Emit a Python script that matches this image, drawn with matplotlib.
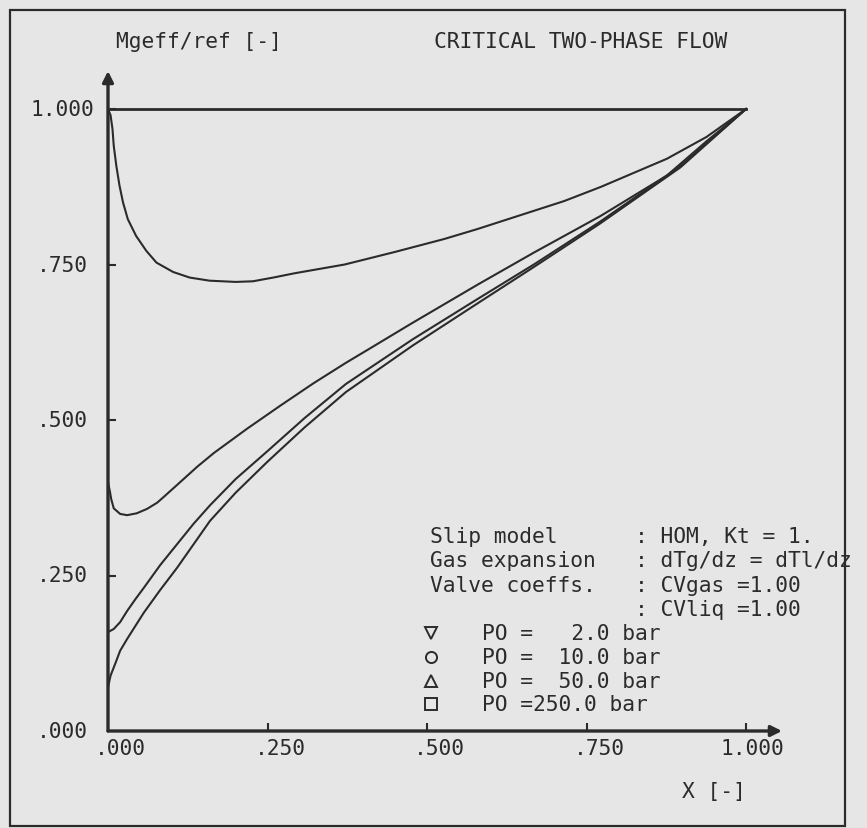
import matplotlib
matplotlib.use('Agg')
import matplotlib.pyplot as plt
import matplotlib.transforms as mtransforms
from matplotlib.patches import Rectangle

W, H = 867, 829
BG = '#e6e6e6'
INK = '#2b2b2b'
FONT = 'DejaVu Sans Mono'
FS = 15.3

# ---------------- data ----------------
ref_x = [0.0, 1.0]
ref_y = [1.0, 1.0]

# P0 = 2 bar (upper curve)
a_x = [0.0, 0.004, 0.007, 0.009, 0.013, 0.018, 0.0235, 0.031, 0.044, 0.060, 0.076,
       0.102, 0.128, 0.159, 0.2, 0.227, 0.259, 0.293, 0.371, 0.449, 0.527, 0.579,
       0.715, 0.773, 0.876, 0.938, 1.0]
a_y = [1.0, 0.99, 0.968, 0.941, 0.909, 0.877, 0.850, 0.823, 0.796, 0.772, 0.753,
       0.738, 0.729, 0.724, 0.722, 0.723, 0.729, 0.736, 0.750, 0.770, 0.791, 0.807,
       0.852, 0.875, 0.920, 0.955, 1.0]

# P0 = 10 bar
b_x = [0.0, 0.003, 0.005, 0.009, 0.019, 0.030, 0.045, 0.061, 0.077, 0.087, 0.113,
       0.140, 0.166, 0.218, 0.270, 0.322, 0.373, 0.404, 0.477, 0.580, 0.669, 0.772,
       0.876, 0.938, 1.0]
b_y = [0.40, 0.385, 0.373, 0.358, 0.349, 0.347, 0.350, 0.357, 0.367, 0.376, 0.400,
       0.425, 0.447, 0.486, 0.523, 0.559, 0.592, 0.611, 0.656, 0.718, 0.770, 0.828,
       0.893, 0.948, 1.0]

# P0 = 50 bar
c_x = [0.0, 0.009, 0.019, 0.030, 0.043, 0.056, 0.082, 0.108, 0.134, 0.160, 0.2,
       0.25, 0.308, 0.373, 0.478, 0.58, 0.669, 0.77, 0.897, 1.0]
c_y = [0.159, 0.164, 0.175, 0.193, 0.212, 0.230, 0.267, 0.300, 0.333, 0.363, 0.405,
       0.450, 0.503, 0.558, 0.630, 0.695, 0.751, 0.818, 0.908, 1.0]

# P0 = 250 bar
d_x = [0.0, 0.004, 0.012, 0.019, 0.030, 0.056, 0.082, 0.108, 0.134, 0.160, 0.2,
       0.25, 0.308, 0.373, 0.478, 0.58, 0.669, 0.77, 0.897, 1.0]
d_y = [0.070, 0.089, 0.110, 0.129, 0.148, 0.190, 0.227, 0.262, 0.300, 0.338, 0.383,
       0.433, 0.488, 0.545, 0.620, 0.688, 0.747, 0.815, 0.906, 1.0]

x_ticks = [0.0, 0.25, 0.5, 0.75, 1.0]
x_labels = ['.000', '.250', '.500', '.750', '1.000']
y_ticks = [0.0, 0.25, 0.5, 0.75, 1.0]
y_labels = ['.000', '.250', '.500', '.750', '1.000']

info_left = ['Slip model', 'Gas expansion', 'Valve coeffs.', '']
info_right = [': HOM, Kt = 1.', ': dTg/dz = dTl/dz', ': CVgas =1.00', ': CVliq =1.00']
legend_labels = ['PO =   2.0 bar', 'PO =  10.0 bar', 'PO =  50.0 bar', 'PO =250.0 bar']
legend_markers = ['v', 'o', '^', 's']

# ---------------- figure ----------------
fig = plt.figure(figsize=(W / 100, H / 100), dpi=100, facecolor=BG)

def fx(x):
    return x / W

def fy(y):
    return 1 - y / H

ax = fig.add_axes([fx(108), fy(732), (782 - 108) / W, (732 - 72) / H])
ax.set_facecolor('none')
ax.set_xlim(0, (782 - 108) / 638)
ax.set_ylim(0, (732 - 72) / 622)
for s in ax.spines.values():
    s.set_visible(False)

# axes with arrows
ax.annotate('', xy=(0, 1), xytext=(0, 0), xycoords='axes fraction',
            arrowprops=dict(arrowstyle='-|>', lw=2.4, color=INK,
                            mutation_scale=16, shrinkA=0, shrinkB=0))
ax.annotate('', xy=(1, 0), xytext=(0, 0), xycoords='axes fraction',
            arrowprops=dict(arrowstyle='-|>', lw=2.4, color=INK,
                            mutation_scale=16, shrinkA=0, shrinkB=0))

ax.set_xticks(x_ticks[1:])
ax.set_yticks(y_ticks[1:])
ax.tick_params(direction='in', length=6, width=1.5, color=INK,
               labelbottom=False, labelleft=False)

def off(dx, dy):
    return mtransforms.ScaledTranslation(dx / 100, dy / 100, fig.dpi_scale_trans)

for v, lab in zip(x_ticks, x_labels):
    ax.text(v, 0, lab, transform=ax.get_xaxis_transform() + off(38, -17),
            ha='right', va='center', family=FONT, size=FS, color=INK)
for v, lab in zip(y_ticks, y_labels):
    ax.text(0, v, lab, transform=ax.get_yaxis_transform() + off(-46, 0),
            ha='center', va='center', family=FONT, size=FS, color=INK)

# curves
lw = 1.5
ax.plot(ref_x, ref_y, color=INK, lw=2.0)
ax.plot(a_x, a_y, color=INK, lw=lw)
ax.plot(b_x, b_y, color=INK, lw=lw)
ax.plot(c_x, c_y, color=INK, lw=lw)
ax.plot(d_x, d_y, color=INK, lw=lw)

# titles
fig.text(fx(116), fy(42), 'Mgeff/ref [-]', ha='left', va='center',
         family=FONT, size=FS, color=INK)
fig.text(fx(434), fy(42), 'CRITICAL TWO-PHASE FLOW', ha='left', va='center',
         family=FONT, size=FS, color=INK)
fig.text(fx(682), fy(792), 'X [-]', ha='left', va='center',
         family=FONT, size=FS, color=INK)

# info block
rows_y = [537, 561, 586, 610]
for yy, l, r in zip(rows_y, info_left, info_right):
    if l:
        fig.text(fx(430), fy(yy), l, ha='left', va='center', family=FONT,
                 size=FS, color=INK)
    fig.text(fx(635), fy(yy), r, ha='left', va='center', family=FONT,
             size=FS, color=INK)

leg_y = [634, 658, 682, 705]
for yy, lab, m in zip(leg_y, legend_labels, legend_markers):
    fig.add_artist(plt.Line2D([fx(431)], [fy(yy)], marker=m, ms=8,
                              mfc='none', mec=INK, mew=1.4,
                              transform=fig.transFigure))
    fig.text(fx(482), fy(yy), lab, ha='left', va='center', family=FONT,
             size=FS, color=INK)

# outer frame
fig.add_artist(Rectangle((fx(10), fy(827)), (845 - 10) / W, (827 - 11) / H,
                         fill=False, lw=1.6, ec=INK, transform=fig.transFigure))

fig.savefig('out.png', dpi=100, facecolor=BG)
